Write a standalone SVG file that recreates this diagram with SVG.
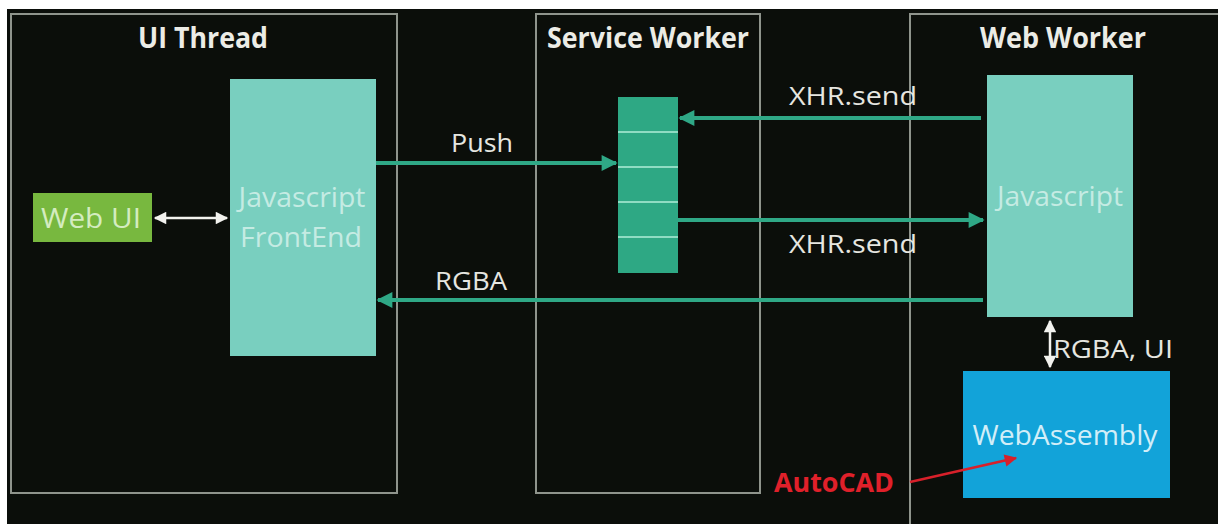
<svg xmlns="http://www.w3.org/2000/svg" width="1218" height="524" viewBox="0 0 1218 524">
<defs>
<style>
.lane{fill:none;stroke:#8f948c;stroke-width:2}
.title{font-family:"Open Sans","Noto Sans",sans-serif;font-weight:bold;font-size:28px;fill:#ecece6;text-anchor:middle}
.lbl{font-family:"Open Sans","Noto Sans",sans-serif;font-size:26px;fill:#e6e6e0;text-anchor:middle}
.inner{font-family:"Open Sans","Noto Sans",sans-serif;font-size:27px;text-anchor:middle}
.conn{stroke:#2fa886;stroke-width:4;fill:none}
.wconn{stroke:#f2f2ee;stroke-width:2.5;fill:none}
</style>
<marker id="ag" viewBox="0 0 10 10" refX="9" refY="5" markerWidth="4.5" markerHeight="4" orient="auto" markerUnits="strokeWidth">
<path d="M0,0 L10,5 L0,10 z" fill="#2fa886"/>
</marker>
<marker id="aw" viewBox="0 0 10 10" refX="9" refY="5" markerWidth="6" markerHeight="5" orient="auto-start-reverse" markerUnits="strokeWidth">
<path d="M0,0 L10,5 L0,10 z" fill="#f2f2ee"/>
</marker>
<marker id="ar" viewBox="0 0 10 10" refX="9" refY="5" markerWidth="6" markerHeight="5" orient="auto" markerUnits="strokeWidth">
<path d="M0,0 L10,5 L0,10 z" fill="#d8202a"/>
</marker>
</defs>
<rect x="0" y="0" width="1218" height="524" fill="#ffffff"/>
<rect x="7" y="9" width="1211" height="515" fill="#0b0e0a"/>

<g id="ui-thread">
<rect class="lane" x="11" y="14" width="386" height="479"/>
<text class="title" x="203" y="48" textLength="130" lengthAdjust="spacingAndGlyphs">UI Thread</text>
</g>
<g id="service-worker">
<rect class="lane" x="536" y="14" width="224" height="479"/>
<text class="title" x="648" y="48" textLength="202" lengthAdjust="spacingAndGlyphs">Service Worker</text>
</g>
<g id="web-worker">
<path class="lane" d="M910,530 V14 H1225"/>
<text class="title" x="1063" y="48" textLength="166" lengthAdjust="spacingAndGlyphs">Web Worker</text>
</g>

<g id="web-ui">
<rect x="33" y="193" width="119" height="49" fill="#78b83f"/>
<text class="inner" x="91" y="228" fill="#d4ecc0" textLength="100" lengthAdjust="spacingAndGlyphs">Web UI</text>
</g>
<g id="js-frontend">
<rect x="230" y="79" width="146" height="277" fill="#79cfbf"/>
<text class="inner" x="302" y="207" fill="#c5ebe3" textLength="127" lengthAdjust="spacingAndGlyphs">Javascript</text>
<text class="inner" x="301" y="247" fill="#c5ebe3" textLength="122" lengthAdjust="spacingAndGlyphs">FrontEnd</text>
</g>
<g id="queue">
<rect x="618" y="97" width="60" height="176" fill="#2ea884"/>
<path d="M618,132 H678 M618,167 H678 M618,202 H678 M618,237 H678" stroke="#8fdcc3" stroke-width="2"/>
</g>
<g id="js-worker">
<rect x="987" y="75" width="146" height="242" fill="#79cfbf"/>
<text class="inner" x="1060" y="206" fill="#c5ebe3" textLength="126" lengthAdjust="spacingAndGlyphs">Javascript</text>
</g>
<g id="webassembly">
<rect x="963" y="371" width="207" height="127" fill="#12a3d9"/>
<text class="inner" x="1065" y="445" fill="#d2eef8" textLength="185" lengthAdjust="spacingAndGlyphs">WebAssembly</text>
</g>

<g id="connectors">
<line class="wconn" x1="155" y1="218" x2="227" y2="218" marker-start="url(#aw)" marker-end="url(#aw)"/>
<line class="conn" x1="376" y1="163" x2="616" y2="163" marker-end="url(#ag)"/>
<line class="conn" x1="981" y1="118" x2="680" y2="118" marker-end="url(#ag)"/>
<line class="conn" x1="678" y1="220" x2="983" y2="220" marker-end="url(#ag)"/>
<line class="conn" x1="983" y1="300" x2="378" y2="300" marker-end="url(#ag)"/>
<line class="wconn" x1="1050" y1="321" x2="1050" y2="367" marker-start="url(#aw)" marker-end="url(#aw)"/>
<line stroke="#d8202a" stroke-width="2.5" x1="910" y1="482" x2="1016" y2="458" marker-end="url(#ar)"/>
<text class="lbl" x="482" y="152" textLength="62" lengthAdjust="spacingAndGlyphs">Push</text>
<text class="lbl" x="853" y="105" textLength="128" lengthAdjust="spacingAndGlyphs">XHR.send</text>
<text class="lbl" x="853" y="253" textLength="128" lengthAdjust="spacingAndGlyphs">XHR.send</text>
<text class="lbl" x="471" y="290" textLength="72" lengthAdjust="spacingAndGlyphs">RGBA</text>
<text class="lbl" x="1113" y="358" textLength="120" lengthAdjust="spacingAndGlyphs">RGBA, UI</text>
<text x="834" y="492" font-family="'Open Sans','Noto Sans',sans-serif" font-weight="bold" font-size="26" fill="#e0202a" text-anchor="middle" textLength="120" lengthAdjust="spacingAndGlyphs">AutoCAD</text>
</g>
</svg>
